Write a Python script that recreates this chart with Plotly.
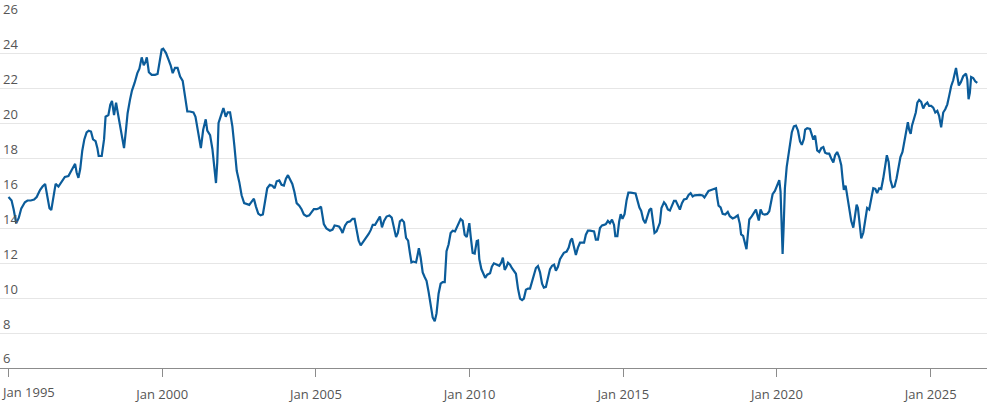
import numpy as np
import pandas as pd
import plotly.graph_objects as go

# months since Jan 1995 and index values
month_offset = [
    0, 1.2, 2, 3, 4, 5, 6.4, 7.4, 8.7, 10, 11, 12.3, 13.3, 14.3, 15.2, 16, 16.7, 17.5, 18.4, 19.5,
    20.8, 22, 23.4, 24.4, 25.3, 26, 26.6, 27.3, 28, 28.8, 29.6, 30.5, 31.3, 32.2, 33, 34, 34.7, 35.2,
    36.4, 37.3, 37.9, 39, 39.75, 40.4, 41.2, 42, 42.7, 43.5, 44.3, 45.1, 45.9, 46.5, 47.4, 48.2, 49.25,
    50.3, 51.1, 52, 52.8, 53.5, 54, 54.8, 55.9, 57.2, 58.2, 58.9, 59.8, 60.4, 61.5, 62.4, 63.3, 64.1,
    65, 66, 67, 68, 68.9, 69.8, 70.8, 72.2, 73, 74, 74.5, 75.1, 76, 77, 77.6, 78.7, 79.6, 80.3, 81,
    81.5, 82, 82.8, 83.9, 84.8, 85.6, 86.5, 87.4, 88.2, 89.1, 90.1, 91, 92, 93, 94, 95, 95.8, 96.6,
    97.5, 98.4, 99.3, 100.1, 101, 102, 103, 103.9, 104.7, 105.7, 106.6, 107.5, 108.3, 109.1, 109.9,
    110.8, 111.6, 112.5, 113.5, 114.4, 115.3, 116.4, 117.4, 118.3, 119.2, 120.3, 121.2, 122, 122.6,
    123.1, 124.1,
    125.5, 126.5, 127.3, 128.4, 129.1, 129.8, 130.4, 131.4, 132.3, 133.3, 134.3, 135.1, 135.9, 136.7,
    137.5, 138.5, 139.6, 140.6, 141.4, 142.2, 143.1, 144, 145, 145.8, 146.6, 147.6, 148.7, 149.6,
    150.5, 151.3, 152, 152.8, 153.6, 154.4, 155.2, 156, 156.7, 157.3, 158, 159.1, 159.7, 160.2, 160.9,
    161.7, 162.5, 163.2, 164, 164.8, 165.6, 166.4, 167.1, 167.9, 168.7, 169.5, 170.3, 171, 171.8,
    172.6, 173.4, 174.3, 175.1, 175.9, 176.5, 177.3, 178.1, 178.9, 179.4, 179.9, 180.5, 181.2, 182,
    182.8, 183.3, 183.8, 184.6, 185.4, 186.1, 186.9, 188, 188.7, 189.5, 190.3, 191, 191.6, 192.4, 193,
    193.7, 194.3, 195, 195.8, 196.5, 197.3, 198.1, 198.9, 199.7, 200.5, 201.2, 202, 202.8, 203.6,
    204.4, 205.1, 205.9, 206.7, 207.5, 208.3, 209, 209.8, 210.6, 211.4, 212.2, 213, 213.7, 214.5,
    215.3, 216.1, 216.8, 217.9, 218.7, 219.4, 220, 220.8, 221.5, 222.3, 223.1, 223.9, 224.7, 225.4,
    226.2, 227, 227.8, 228.6, 229.3, 230.1, 230.9, 231.7, 232.5, 233.2, 234, 234.8, 235.6, 236.4,
    236.9, 237.7, 238.4, 239, 239.7, 240.5, 241.3, 242, 242.9, 243.9, 244.8, 245.5, 246.3, 247, 247.8,
    248.6, 249.4, 250.2, 250.9, 251.5, 252.2, 253, 253.8,
    254.3, 254.9, 255.9, 256.6, 257.4, 258.2, 259, 259.8, 260.5, 261.3, 262.1, 262.9, 263.7, 264.7,
    265.5, 266.3, 267.1, 267.8, 268.9, 269.9, 271, 271.7, 272.5, 273.3, 274.3, 275.4, 276.2, 276.7,
    277.2, 278, 278.8, 279.8, 280.8, 281.6, 282.7, 283.7, 284.7, 285.5, 286, 286.8, 287.5, 288.1,
    288.7, 289.2, 290.2, 291, 291.8, 292.3, 292.9, 293.6, 294.4, 295.2, 296.2, 297, 297.6, 298.3,
    299.2, 300.1, 300.9, 301.4, 301.9, 302.2, 302.6, 303.1, 303.8, 304.4, 305.1, 305.8, 306.6, 307.4,
    308.2, 309, 309.7, 310.5, 311, 311.8, 312.9, 313.6, 314.2, 314.9, 315.7, 316.5, 317.3, 318.1,
    318.8, 319.6, 320.4, 321.2, 322, 322.7, 323.5, 324.3, 325.1, 325.6, 326.1, 326.8, 327.4, 328.2,
    329, 329.8, 330.4, 331.1, 331.6, 332.1, 332.9, 333.7, 334.5, 335.2, 336, 336.8, 337.6, 338.4,
    339.1, 339.9, 340.7, 341.5, 342.3, 342.9, 343.6, 344.3, 345.1, 345.9, 346.7, 347.5, 348.2, 349,
    349.8, 350.6, 351.1, 351.6, 352.2, 352.7, 353.5, 354.2, 354.8, 355.5, 356.3, 357.1, 357.9, 358.7,
    359.4, 360.2, 361, 361.8, 362.6, 363.3, 364.1, 364.9, 365.7, 366.5, 367.2, 368, 368.8, 369.3,
    369.9, 370.4, 371, 371.8, 372.7, 373.8, 374.3, 374.8, 375.3, 375.8, 376.6, 377.4, 378.2,
]

index_value = [
    15.8, 15.6, 15.1, 14.3, 14.6, 15.15, 15.5, 15.6, 15.6, 15.65, 15.8, 16.2, 16.4, 16.55, 15.8, 15.15,
    15.05, 15.7, 16.55, 16.4, 16.65, 16.95, 17.0, 17.3, 17.55, 17.7, 17.2, 16.9, 17.4, 18.45, 19.1,
    19.5, 19.6, 19.55, 19.1, 19.0, 18.6, 18.15, 18.15, 19.1, 20.4, 20.5, 21.1, 21.3, 20.5, 21.2, 20.6,
    19.85, 19.3, 18.6, 19.7, 20.6, 21.35, 21.9, 22.35, 22.9, 23.15, 23.8, 23.35, 23.55, 23.8, 22.95,
    22.8, 22.8, 22.85, 23.55, 24.25, 24.3, 24.05, 23.7, 23.35, 22.9, 23.2, 23.2, 22.7, 22.45, 21.45,
    20.7, 20.7, 20.65, 20.4, 19.65, 19.1, 18.6, 19.65, 20.25, 19.6, 19.35, 18.55, 17.4, 16.6, 17.8,
    20.05, 20.4, 20.9, 20.4, 20.65, 20.65, 19.85, 18.7, 17.3, 16.65, 15.9, 15.45, 15.4, 15.35, 15.55,
    15.7, 15.25, 14.85, 14.75, 14.8, 15.5, 16.3, 16.5, 16.45, 16.3, 16.7, 16.75, 16.5, 16.45, 16.85,
    17.05, 16.85, 16.55, 16.1, 15.45, 15.3, 15.1, 14.8, 14.7, 14.75, 14.95, 15.1, 15.1, 15.15, 15.25,
    14.8, 14.25, 14.0,
    13.87, 13.93, 14.17, 14.14, 14.1, 13.93, 13.74, 14.17, 14.36, 14.4, 14.55, 14.55, 14.0, 13.3,
    13.03, 13.23, 13.45, 13.68, 13.9, 14.2, 14.2, 14.43, 14.68, 14.06, 14.43, 14.68, 14.74, 14.62,
    13.93, 13.5, 13.74, 14.4, 14.5, 14.36, 13.46, 13.3, 12.6, 12.05, 12.1, 12.05, 12.48, 12.86, 12.33,
    11.48, 11.2, 11.0, 10.36, 9.5, 8.9, 8.68, 9.13, 10.26, 10.83, 10.92, 10.92, 12.7, 13.08, 13.74,
    13.87, 13.83, 14.1, 14.43, 14.53, 14.43, 13.64, 13.5, 13.93, 14.3, 13.46, 12.6, 12.56, 13.27, 13.3,
    12.24, 11.67, 11.43, 11.17, 11.35, 11.43, 11.8, 12.0, 11.95, 11.9, 11.86, 12.05, 12.33, 11.62,
    11.77, 12.03, 11.92, 11.73, 11.58, 11.4, 10.55, 9.98, 9.89, 9.98, 10.49, 10.55, 10.55, 11.0, 11.24,
    11.73, 11.84, 11.48, 10.83, 10.6, 10.64, 11.2, 11.67, 11.86, 11.92, 11.58, 11.8, 12.24, 12.48,
    12.6, 12.67, 12.9, 13.3, 13.42, 12.9, 12.48, 12.9, 13.18, 13.18, 13.18, 13.64, 13.87, 13.87, 13.87,
    13.83, 13.36, 13.36, 14.02, 14.17, 14.2, 14.25, 14.43, 14.3, 14.5, 14.2, 13.55, 13.55, 14.4, 14.81,
    14.55, 14.81, 15.62, 16.05, 16.05, 16.03, 16.0, 15.62, 15.19, 15.0, 14.5, 14.3, 14.68, 15.06,
    15.15, 14.5, 13.74, 13.83, 14.2,
    14.32, 15.17, 15.49, 15.36, 15.08, 15.02, 15.26, 15.58, 15.58, 15.32, 15.08, 15.45, 15.66, 15.7,
    15.92, 16.02, 15.83, 15.89, 15.92, 15.92, 15.89, 15.77, 15.96, 16.15, 16.2, 16.26, 16.3, 15.74,
    15.3, 15.2, 14.83, 14.79, 14.94, 14.7, 14.57, 14.64, 14.75, 14.26, 13.66, 13.57, 13.19, 12.81,
    13.75, 14.51, 14.7, 14.89, 15.08, 14.79, 14.45, 15.08, 14.83, 14.79, 14.83, 14.98, 15.55, 15.96,
    16.15, 16.45, 16.77, 16.11, 14.04, 12.53, 14.04, 16.3, 17.53, 18.19, 18.94, 19.51, 19.85, 19.89,
    19.6, 18.98, 18.79, 19.13, 19.66, 19.74, 19.7, 19.42, 19.09, 19.32, 18.47, 18.38, 18.6, 18.66,
    18.34, 18.28, 18.28, 18.0, 17.77, 18.19, 18.38, 18.09, 17.62, 16.87, 16.21, 16.45, 15.92, 15.17,
    14.42, 14.04, 14.6, 15.36, 15.17, 14.32, 13.43, 13.75, 14.6, 15.17, 15.08, 15.74, 16.3, 16.26,
    16.02, 16.3, 16.26, 16.87, 17.81, 18.19, 17.81, 16.77, 16.36, 16.4, 16.87, 17.62, 18.09, 18.38,
    19.04, 19.79, 20.08, 19.66, 19.42, 19.89, 20.36, 20.64, 21.21, 21.36, 21.25, 20.87, 21.11, 21.21,
    21.02, 21.02, 20.92, 20.64, 20.74, 20.45, 19.79, 20.64, 20.83, 21.11, 21.58, 22.15, 22.49, 22.91,
    23.19, 22.72, 22.19, 22.38, 22.72, 22.87, 22.53, 21.4, 21.77, 22.68, 22.62, 22.43, 22.34,
]

tick_dates = ["1995-01-01", "2000-01-01", "2005-01-01", "2010-01-01",
              "2015-01-01", "2020-01-01", "2025-01-01"]
tick_labels = ["Jan 1995", "Jan 2000", "Jan 2005", "Jan 2010",
               "Jan 2015", "Jan 2020", "Jan 2025"]
y_ticks = [6, 8, 10, 12, 14, 16, 18, 20, 22, 24, 26]

dates = pd.Timestamp("1995-01-01") + pd.to_timedelta(np.array(month_offset) * 30.4375, unit="D")

FONT = "Open Sans"
LABEL = "#555555"

fig = go.Figure()
fig.add_trace(go.Scatter(
    x=dates, y=index_value, mode="lines",
    line=dict(color="#0b5c9a", width=2.2),
    hoverinfo="skip", showlegend=False,
))

fig.update_layout(
    width=1000, height=403, autosize=False,
    margin=dict(l=0, r=13, t=16, b=34),
    paper_bgcolor="white", plot_bgcolor="white",
    font=dict(family=FONT, size=13, color=LABEL),
    showlegend=False,
)

fig.update_xaxes(
    type="date",
    range=["1994-09-22", "2026-11-01"],
    tickvals=tick_dates,
    ticktext=[""] + tick_labels[1:],
    showgrid=False, zeroline=False,
    showline=True, linecolor="#8c8c8c", linewidth=1,
    ticks="outside", ticklen=8, tickcolor="#8c8c8c", tickwidth=1,
    ticklabelstandoff=6,
    tickfont=dict(family=FONT, size=13, color=LABEL),
)

fig.update_yaxes(
    range=[6, 26],
    tickvals=y_ticks,
    showgrid=True, gridcolor="#e6e6e6", gridwidth=1,
    zeroline=False, showline=False, ticks="",
    ticklabelposition="inside top",
    ticklabeloverflow="allow",
    tickfont=dict(family=FONT, size=13, color=LABEL),
)

# first x label is justified to sit inside the chart, as in the original
fig.add_annotation(
    x=0, xref="paper", xanchor="left",
    y=0, yref="paper", yanchor="bottom", yshift=-34,
    text=tick_labels[0], showarrow=False, borderpad=0,
    font=dict(family=FONT, size=13, color=LABEL),
)

fig.write_html("out.html")
